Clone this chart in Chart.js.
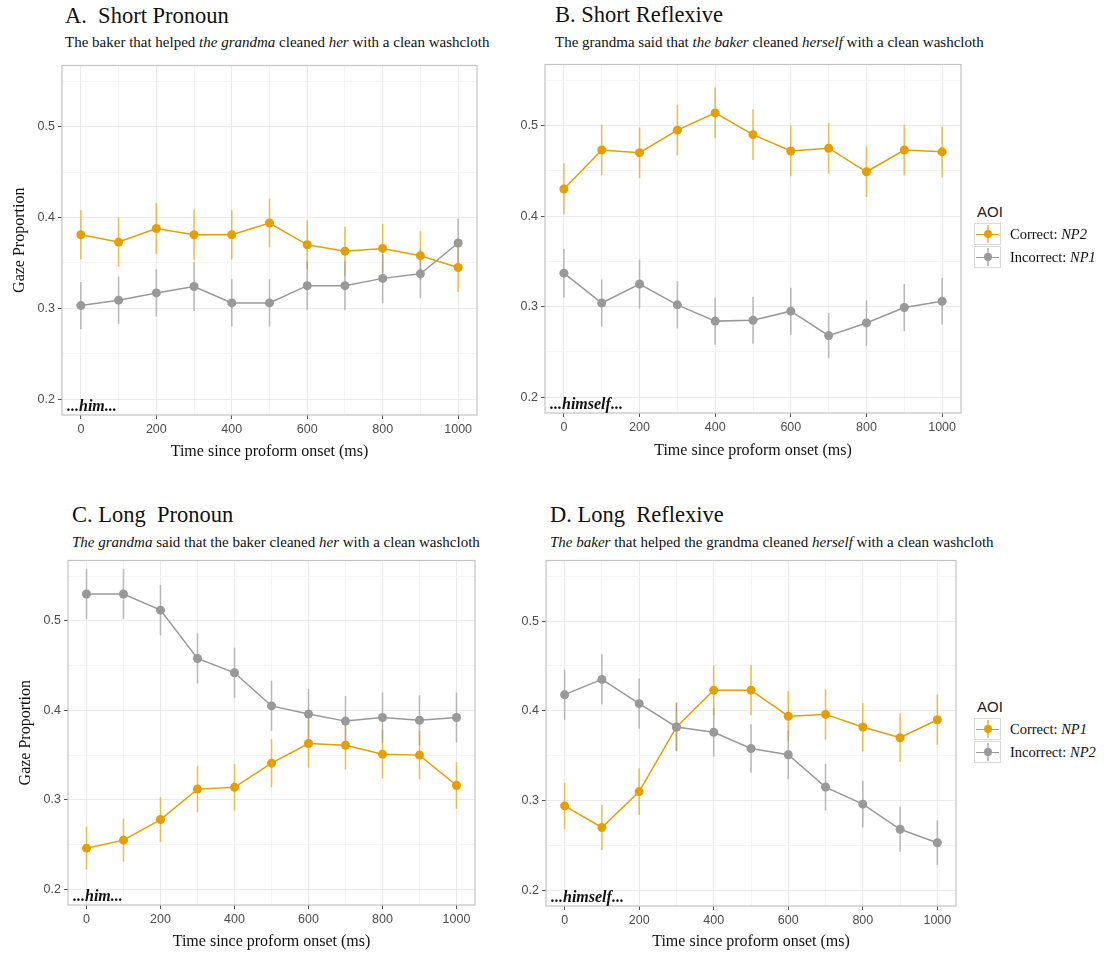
<!DOCTYPE html>
<html>
<head>
<meta charset="utf-8">
<script src="https://cdn.jsdelivr.net/npm/chart.js@4.4.1/dist/chart.umd.min.js"></script>
<style>
  body { margin: 0; background: #fff; width: 1108px; height: 955px; position: relative; overflow: hidden;
         font-family: "Liberation Serif", "Times New Roman", serif; color: #111; }
  .t { position: absolute; white-space: nowrap; line-height: 1; }
  .title { font-size: 22.5px; }
  .sub { font-size: 15px; }
  canvas { position: absolute; }
  .aoi { position: absolute; font-family: "Liberation Sans", Arial, sans-serif; font-size: 15px; line-height: 1; color: #222; }
  .key { position: absolute; width: 27px; height: 22px; border: 1px solid #d9d9d9; box-sizing: border-box; background: #fff; }
  .key .h { position: absolute; left: 1px; right: 1px; top: 9.5px; height: 1.5px; }
  .key .v { position: absolute; top: 1px; bottom: 1px; left: 12px; width: 1.5px; opacity: 0.6; }
  .key .d { position: absolute; width: 8px; height: 8px; border-radius: 50%; left: 8.7px; top: 6.2px; }
  .lab { position: absolute; font-size: 14.5px; line-height: 1; white-space: nowrap; }
</style>
</head>
<body>

<div class="t title" style="left:65px; top:5px;">A.&nbsp; Short Pronoun</div>
<div class="t sub" style="left:65px; top:35px;">The baker that helped <i>the grandma</i> cleaned <i>her</i> with a clean washcloth</div>
<div class="t title" style="left:555px; top:4px;">B. Short Reflexive</div>
<div class="t sub" style="left:555px; top:35px;">The grandma said that <i>the baker</i> cleaned <i>herself</i> with a clean washcloth</div>
<div class="t title" style="left:72px; top:504px;">C. Long&nbsp; Pronoun</div>
<div class="t sub" style="left:72px; top:535px;"><i>The grandma</i> said that the baker cleaned <i>her</i> with a clean washcloth</div>
<div class="t title" style="left:550px; top:504px;">D. Long&nbsp; Reflexive</div>
<div class="t sub" style="left:550px; top:535px;"><i>The baker</i> that helped the grandma cleaned <i>herself</i> with a clean washcloth</div>

<canvas id="chartA" width="484" height="410" style="left:6px; top:55px;"></canvas>
<canvas id="chartB" width="470" height="410" style="left:505px; top:54px;"></canvas>
<canvas id="chartC" width="478" height="405" style="left:12px; top:550px;"></canvas>
<canvas id="chartD" width="465" height="405" style="left:505px; top:550px;"></canvas>

<div id="legendTop"></div>
<div id="legendBottom"></div>

<script>
// Time bins (ms after the proform) and axis ticks
const timeMs = [0, 100, 200, 300, 400, 500, 600, 700, 800, 900, 1000];
const xTicks = [0, 100, 200, 300, 400, 500, 600, 700, 800, 900, 1000];
const xTickLabels = ['0', '', '200', '', '400', '', '600', '', '800', '', '1000'];
const yTicks = [0.2, 0.25, 0.3, 0.35, 0.4, 0.45, 0.5, 0.55];
const yTickLabels = ['0.2', '', '0.3', '', '0.4', '', '0.5', ''];

// A. Short Pronoun
const shortPronounCorrect      = [0.381, 0.373, 0.388, 0.381, 0.381, 0.394, 0.370, 0.363, 0.366, 0.358, 0.345];
const shortPronounCorrectErr   = [0.027, 0.027, 0.028, 0.028, 0.027, 0.027, 0.027, 0.027, 0.027, 0.027, 0.027];
const shortPronounIncorrect    = [0.303, 0.309, 0.317, 0.324, 0.306, 0.306, 0.325, 0.325, 0.333, 0.338, 0.372];
const shortPronounIncorrectErr = [0.026, 0.026, 0.026, 0.027, 0.026, 0.026, 0.027, 0.027, 0.027, 0.027, 0.027];

// B. Short Reflexive
const shortReflexiveCorrect      = [0.430, 0.473, 0.470, 0.495, 0.514, 0.490, 0.472, 0.475, 0.449, 0.473, 0.471];
const shortReflexiveCorrectErr   = [0.028, 0.028, 0.028, 0.028, 0.028, 0.028, 0.028, 0.028, 0.028, 0.028, 0.028];
const shortReflexiveIncorrect    = [0.337, 0.304, 0.325, 0.302, 0.284, 0.285, 0.295, 0.268, 0.282, 0.299, 0.306];
const shortReflexiveIncorrectErr = [0.027, 0.026, 0.027, 0.026, 0.026, 0.026, 0.026, 0.025, 0.025, 0.026, 0.026];

// C. Long Pronoun
const longPronounCorrect      = [0.246, 0.255, 0.278, 0.312, 0.314, 0.341, 0.363, 0.361, 0.351, 0.350, 0.316];
const longPronounCorrectErr   = [0.024, 0.024, 0.025, 0.026, 0.026, 0.027, 0.027, 0.027, 0.027, 0.027, 0.026];
const longPronounIncorrect    = [0.530, 0.530, 0.512, 0.458, 0.442, 0.405, 0.396, 0.388, 0.392, 0.389, 0.392];
const longPronounIncorrectErr = [0.028, 0.028, 0.028, 0.028, 0.028, 0.028, 0.028, 0.028, 0.028, 0.028, 0.028];

// D. Long Reflexive
const longReflexiveCorrect      = [0.294, 0.270, 0.310, 0.382, 0.423, 0.423, 0.394, 0.396, 0.382, 0.370, 0.390];
const longReflexiveCorrectErr   = [0.026, 0.025, 0.026, 0.027, 0.028, 0.028, 0.028, 0.028, 0.027, 0.027, 0.028];
const longReflexiveIncorrect    = [0.418, 0.435, 0.408, 0.382, 0.376, 0.358, 0.351, 0.315, 0.296, 0.268, 0.253];
const longReflexiveIncorrectErr = [0.028, 0.028, 0.028, 0.027, 0.027, 0.027, 0.027, 0.026, 0.026, 0.025, 0.025];

const ORANGE = '#E69F00';
const GREY = '#999999';
const ORANGE_BAR = 'rgba(230,159,0,0.65)';
const GREY_BAR = 'rgba(153,153,153,0.65)';
const SERIF = '"Liberation Serif", "Times New Roman", serif';
const SANS = '"Liberation Sans", Arial, sans-serif';

// Vertical error bars (mean ± err), positioned through the chart scales
const errorBarPlugin = {
  id: 'errorBars',
  beforeDatasetsDraw(chart) {
    const { ctx, scales: { x, y } } = chart;
    ctx.save();
    ctx.lineWidth = 1.6;
    chart.data.datasets.forEach((ds) => {
      ctx.strokeStyle = ds.barColor;
      ds.data.forEach((pt, i) => {
        const e = ds.errors[i];
        const px = x.getPixelForValue(pt.x);
        ctx.beginPath();
        ctx.moveTo(px, y.getPixelForValue(pt.y - e));
        ctx.lineTo(px, y.getPixelForValue(pt.y + e));
        ctx.stroke();
      });
    });
    ctx.restore();
  }
};

// Panel frame and the proform note in the lower-left corner
const framePlugin = {
  id: 'frame',
  afterDatasetsDraw(chart, args, opts) {
    const { ctx, chartArea: a } = chart;
    ctx.save();
    ctx.strokeStyle = '#c4c4c4';
    ctx.lineWidth = 1.2;
    ctx.strokeRect(a.left, a.top, a.right - a.left, a.bottom - a.top);
    if (opts.note) {
      ctx.fillStyle = '#111';
      ctx.font = 'italic bold 16px ' + SERIF;
      ctx.textBaseline = 'alphabetic';
      ctx.fillText(opts.note, a.left + 5, a.bottom - 4);
    }
    ctx.restore();
  }
};

function toPoints(values) {
  return values.map((v, i) => ({ x: timeMs[i], y: v }));
}

function makePanel(id, cfg) {
  const isMajorY = (v) => Math.abs(v * 10 - Math.round(v * 10)) < 1e-6;
  const isMajorX = (v) => v % 200 === 0;
  new Chart(document.getElementById(id), {
    type: 'line',
    data: {
      datasets: [
        {
          label: cfg.correctLabel, data: toPoints(cfg.correct), errors: cfg.correctErr,
          borderColor: ORANGE, backgroundColor: ORANGE, barColor: ORANGE_BAR, order: 1
        },
        {
          label: cfg.incorrectLabel, data: toPoints(cfg.incorrect), errors: cfg.incorrectErr,
          borderColor: GREY, backgroundColor: GREY, barColor: GREY_BAR, order: 0
        }
      ]
    },
    options: {
      responsive: false,
      animation: false,
      layout: { autoPadding: false, padding: { top: cfg.padTop, right: cfg.padRight, left: 0, bottom: 0 } },
      elements: {
        line: { borderWidth: 1.5, tension: 0 },
        point: { radius: 4.5, borderWidth: 0, hoverRadius: 4.5 }
      },
      plugins: {
        legend: { display: false },
        tooltip: { enabled: false },
        frame: { note: cfg.note }
      },
      scales: {
        x: {
          type: 'linear', min: -50, max: 1050,
          afterBuildTicks: (s) => { s.ticks = xTicks.map((v) => ({ value: v })); },
          afterFit: (s) => { s.height = cfg.xHeight; },
          border: { display: false },
          grid: {
            color: (c) => (isMajorX(c.tick.value) ? '#ebebeb' : '#f5f5f5'),
            lineWidth: 1,
            tickLength: 4,
            tickColor: (c) => (isMajorX(c.tick.value) ? '#555' : 'rgba(0,0,0,0)')
          },
          ticks: {
            autoSkip: false, maxRotation: 0, padding: 3,
            color: '#4d4d4d', font: { family: SANS, size: 12.5 },
            callback: (v) => xTickLabels[xTicks.indexOf(v)]
          },
          title: {
            display: true, text: 'Time since proform onset (ms)',
            color: '#111', font: { family: SERIF, size: 16 }
          }
        },
        y: {
          type: 'linear', min: 0.1825, max: 0.5675,
          afterBuildTicks: (s) => { s.ticks = yTicks.map((v) => ({ value: v })); },
          afterFit: (s) => { s.width = cfg.yWidth; },
          border: { display: false },
          grid: {
            color: (c) => (isMajorY(c.tick.value) ? '#ebebeb' : '#f5f5f5'),
            lineWidth: 1,
            tickLength: 4,
            tickColor: (c) => (isMajorY(c.tick.value) ? '#555' : 'rgba(0,0,0,0)')
          },
          ticks: {
            autoSkip: false, padding: 3,
            color: '#4d4d4d', font: { family: SANS, size: 12.5 },
            callback: (v) => {
              const i = yTicks.findIndex((t) => Math.abs(t - v) < 1e-9);
              return i >= 0 ? yTickLabels[i] : '';
            }
          },
          title: {
            display: cfg.showYTitle, text: 'Gaze Proportion',
            color: '#111', font: { family: SERIF, size: 16 }
          }
        }
      }
    },
    plugins: [errorBarPlugin, framePlugin]
  });
}

makePanel('chartA', {
  correct: shortPronounCorrect, correctErr: shortPronounCorrectErr,
  incorrect: shortPronounIncorrect, incorrectErr: shortPronounIncorrectErr,
  correctLabel: 'Correct: NP2', incorrectLabel: 'Incorrect: NP1',
  note: '...him...', showYTitle: true, yWidth: 56, xHeight: 50, padTop: 6, padRight: 13
});
makePanel('chartB', {
  correct: shortReflexiveCorrect, correctErr: shortReflexiveCorrectErr,
  incorrect: shortReflexiveIncorrect, incorrectErr: shortReflexiveIncorrectErr,
  correctLabel: 'Correct: NP2', incorrectLabel: 'Incorrect: NP1',
  note: '...himself...', showYTitle: false, yWidth: 40, xHeight: 51, padTop: 6, padRight: 14
});
makePanel('chartC', {
  correct: longPronounCorrect, correctErr: longPronounCorrectErr,
  incorrect: longPronounIncorrect, incorrectErr: longPronounIncorrectErr,
  correctLabel: 'Correct: NP1', incorrectLabel: 'Incorrect: NP2',
  note: '...him...', showYTitle: true, yWidth: 56, xHeight: 50, padTop: 6, padRight: 15
});
makePanel('chartD', {
  correct: longReflexiveCorrect, correctErr: longReflexiveCorrectErr,
  incorrect: longReflexiveIncorrect, incorrectErr: longReflexiveIncorrectErr,
  correctLabel: 'Correct: NP1', incorrectLabel: 'Incorrect: NP2',
  note: '...himself...', showYTitle: false, yWidth: 41, xHeight: 49, padTop: 7, padRight: 14
});

// AOI legends beside the right-hand panels
function buildLegend(el, top, items) {
  let html = '<div class="aoi" style="left:977px; top:' + (top - 7) + 'px;">AOI</div>';
  items.forEach((it, i) => {
    const rowY = top + 23 + i * 23;
    html += '<div class="key" style="left:974px; top:' + (rowY - 11) + 'px;">' +
      '<span class="h" style="background:' + it.color + '"></span>' +
      '<span class="v" style="background:' + it.color + '"></span>' +
      '<span class="d" style="background:' + it.color + '"></span></div>';
    html += '<div class="lab" style="left:1010px; top:' + (rowY - 7) + 'px;">' + it.text + '</div>';
  });
  el.innerHTML = html;
}
buildLegend(document.getElementById('legendTop'), 211, [
  { color: ORANGE, text: 'Correct: <i>NP2</i>' },
  { color: GREY, text: 'Incorrect: <i>NP1</i>' }
]);
buildLegend(document.getElementById('legendBottom'), 706, [
  { color: ORANGE, text: 'Correct: <i>NP1</i>' },
  { color: GREY, text: 'Incorrect: <i>NP2</i>' }
]);
</script>
</body>
</html>
